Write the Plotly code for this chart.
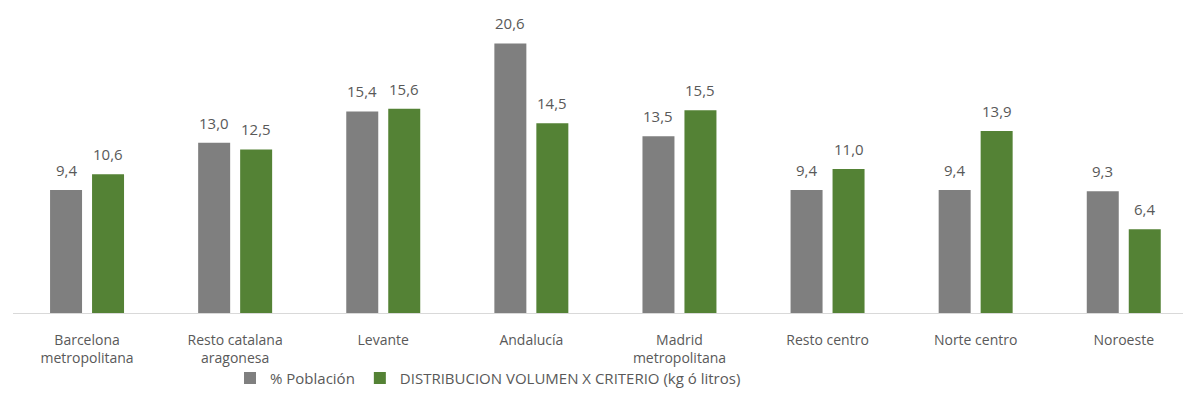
import plotly.graph_objects as go

categories = ["Barcelona<br>metropolitana", "Resto catalana<br>aragonesa", "Levante", "Andalucía",
              "Madrid<br>metropolitana", "Resto centro", "Norte centro", "Noroeste"]
poblacion = [9.4, 13.0, 15.4, 20.6, 13.5, 9.4, 9.4, 9.3]
distribucion = [10.6, 12.5, 15.6, 14.5, 15.5, 11.0, 13.9, 6.4]
series_names = ["% Población", "DISTRIBUCION VOLUMEN X CRITERIO (kg ó litros)"]
series_colors = ["#7f7f7f", "#548235"]

def fmt(v):
    return f"{v:.1f}".replace(".", ",")

font_family = "Open Sans, Lato, sans-serif"
label_color = "#595959"

W, H = 1183, 416
ML, MR, MT, MB = 13, 0, 10, 103
x_range = [-0.5, 7.4]
px_per_cat = (W - ML - MR) / (x_range[1] - x_range[0])
bargap, bargroupgap = 0.433, 0.238
slot = px_per_cat * (1 - bargap) / 2
offsets = [-slot / 2, slot / 2]

fig = go.Figure()
for name, vals, col in zip(series_names, [poblacion, distribucion], series_colors):
    fig.add_trace(go.Bar(x=categories, y=vals, name=name, marker_color=col,
                         marker_line_width=0))

annotations = []
for vals, off in zip([poblacion, distribucion], offsets):
    for c, v in zip(categories, vals):
        annotations.append(dict(x=c, y=v, xref="x", yref="y", text=fmt(v),
                                showarrow=False, yanchor="bottom", yshift=8, xshift=off,
                                font=dict(size=15, color=label_color, family=font_family)))

fig.update_layout(
    width=W, height=H,
    margin=dict(l=ML, r=MR, t=MT, b=MB),
    paper_bgcolor="white", plot_bgcolor="white",
    barmode="group", bargap=bargap, bargroupgap=bargroupgap,
    font=dict(family=font_family, color=label_color, size=15),
    showlegend=True,
    legend=dict(orientation="h", x=(230 - ML) / (W - ML - MR), xanchor="left",
                y=-0.215, yanchor="middle", bgcolor="rgba(0,0,0,0)",
                font=dict(size=15, color=label_color, family=font_family), itemwidth=30,
                traceorder="normal"),
    xaxis=dict(range=x_range, showline=True, linecolor="#d9d9d9", linewidth=1,
               ticks="", tickfont=dict(size=14, color=label_color, family=font_family),
               ticklabelstandoff=14, automargin=False, fixedrange=True),
    yaxis=dict(range=[0, 23.15], visible=False, showgrid=False, zeroline=False,
               automargin=False),
    annotations=annotations,
)

fig.write_html("out.html", post_script="document.body.style.margin='0';",
               config={"displayModeBar": False})
